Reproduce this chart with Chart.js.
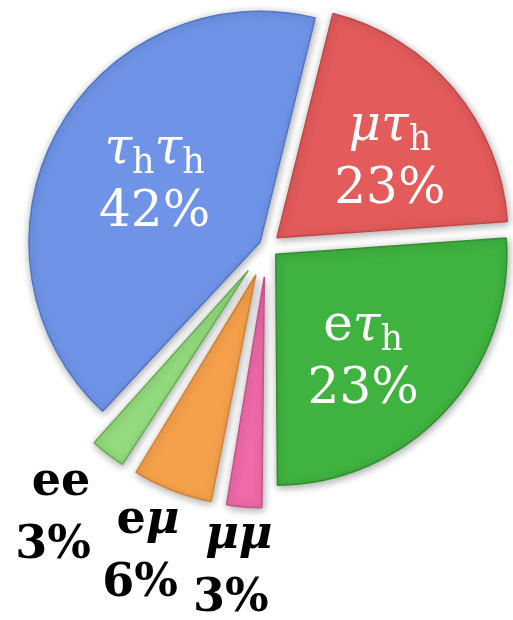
<!DOCTYPE html>
<html>
<head>
<meta charset="utf-8">
<script src="https://cdn.jsdelivr.net/npm/chart.js@4.4.1/dist/chart.umd.min.js"></script>
<style>
  html, body { margin: 0; padding: 0; background: #fff; overflow: hidden; }
  #wrap { width: 513px; height: 620px; }
</style>
</head>
<body>
<div id="wrap"><canvas id="pieChart" width="513" height="620"></canvas></div>
<script>
// slices go clockwise, starting a bit right of 12 o'clock
const categories = ['μτh', 'eτh', 'μμ', 'eμ', 'ee', 'τhτh'];
// slice sizes as drawn in the picture (the red one is drawn clearly smaller than the green one)
const shares = [20, 26, 3, 6, 3, 42];
// the percentages printed on the picture
const shareLabels = ['23%', '23%', '3%', '6%', '3%', '42%'];

const fills = ['#e35b5b', '#3fb23f', '#ee6aa8', '#f5a14c', '#94db7e', '#6f94e7'];
const edges = ['#c24747', '#2f902f', '#c9518a', '#d4822f', '#66ad55', '#5275c4'];
const pull = [13, 12, 31, 31, 31, 8];            // px each slice is pulled out
const labelDist = [150, 149, 323, 329, 339, 129]; // px from centre to label block
const labelTurn = [5, 7, 0, 0, 0, 1];             // deg, nudge off the slice middle
const inside = [true, true, false, false, false, true];

const RADIUS = 231;

// chart.js makes narrow exploded slices a bit longer, undo that
const keepRadius = {
    id: 'keepRadius',
    afterDatasetUpdate(chart, args) {
        chart.getDatasetMeta(args.index).data.forEach((arc) => {
            const off = (arc.options.offset || 0) / 4;
            const fix = 1 - Math.sin(Math.min(Math.PI, arc.circumference || 0));
            arc.outerRadius = RADIUS - off * fix;
        });
    }
};

const softShadow = {
    id: 'softShadow',
    beforeDatasetsDraw(chart) {
        const ctx = chart.ctx;
        ctx.save();
        ctx.shadowColor = 'rgba(0,0,0,0.35)';
        ctx.shadowBlur = 8;
        ctx.shadowOffsetX = 1;
        ctx.shadowOffsetY = 2;
    },
    afterDatasetsDraw(chart) {
        chart.ctx.restore();
    }
};

function splitName(name) {
    return [...name].map(ch => ({
        text: ch,
        italic: /[α-ω]/.test(ch),
        sub: ch === 'h'
    }));
}

function fontFor(seg, size, weight) {
    const s = seg.sub ? Math.round(size * 0.7) : size;
    return (seg.italic ? 'italic ' : '') + weight + ' ' + s + 'px "DejaVu Serif"';
}

function drawRich(ctx, segs, x, y, size, weight) {
    ctx.textBaseline = 'alphabetic';
    ctx.textAlign = 'left';
    let total = 0;
    const widths = segs.map(seg => {
        ctx.font = fontFor(seg, size, weight);
        const w = ctx.measureText(seg.text).width;
        total += w;
        return w;
    });
    let pos = x - total / 2;
    segs.forEach((seg, k) => {
        ctx.font = fontFor(seg, size, weight);
        ctx.fillText(seg.text, pos, y + (seg.sub ? size * 0.2 : 0));
        pos += widths[k];
    });
}

const sliceLabels = {
    id: 'sliceLabels',
    afterDraw(chart) {
        const ctx = chart.ctx;
        const arcs = chart.getDatasetMeta(0).data;
        ctx.save();
        arcs.forEach((arc, i) => {
            const mid = (arc.startAngle + arc.endAngle) / 2 + labelTurn[i] * Math.PI / 180;
            const cx = arc.x + Math.cos(mid) * labelDist[i];
            const cy = arc.y + Math.sin(mid) * labelDist[i];
            const size = inside[i] ? 50 : 46;
            const weight = inside[i] ? 'normal' : 'bold';
            // outside labels: percentage line sits a little to the left of the name
            const shift = inside[i] ? 0 : -8;
            ctx.fillStyle = inside[i] ? '#ffffff' : '#000000';
            drawRich(ctx, splitName(categories[i]), cx, cy - 20, size, weight);
            drawRich(ctx, [{ text: shareLabels[i], italic: false, sub: false }], cx + shift, cy + 43, size, weight);
        });
        ctx.restore();
    }
};

new Chart(document.getElementById('pieChart'), {
    type: 'pie',
    data: {
        labels: categories,
        datasets: [{
            data: shares,
            backgroundColor: fills,
            borderColor: edges,
            borderWidth: 1.5,
            offset: pull.map(p => p * 4),
            clip: false
        }]
    },
    options: {
        responsive: false,
        animation: false,
        rotation: 14,
        radius: RADIUS,
        layout: { padding: { left: 21, right: 0, top: 0, bottom: 128 } },
        events: [],
        plugins: {
            legend: { display: false },
            tooltip: { enabled: false }
        }
    },
    plugins: [keepRadius, softShadow, sliceLabels]
});
</script>
</body>
</html>
